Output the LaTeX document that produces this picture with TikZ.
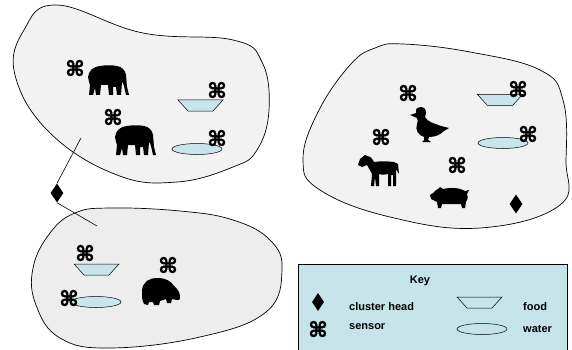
\documentclass[tikz,border=0pt]{standalone}
\usepackage{fontspec}
\setmainfont{Liberation Sans}
\newfontfamily\symbfont[FakeBold=2.5]{DejaVu Sans}
\usetikzlibrary{shapes.geometric}

\definecolor{pond}{HTML}{C8E5EA}
\definecolor{keyback}{HTML}{C5E3E8}
\definecolor{land}{HTML}{F2F2F2}
\definecolor{landb}{HTML}{EDEDED}

\tikzset{
  region/.style={draw,line width=0.7pt},
  sensor/.style={font=\symbfont\bfseries\fontsize{21}{21}\selectfont,inner sep=0pt},
  head/.style={diamond,fill=black,inner sep=0pt,minimum width=13pt,minimum height=19pt},
  water/.style={ellipse,draw,fill=pond,line width=0.5pt,inner sep=0pt,
    minimum width=50pt,minimum height=11pt},
  keytext/.style={font=\bfseries\fontsize{11}{12}\selectfont,anchor=west,inner sep=0pt},
  % food tray, origin at centre
  food/.pic={
    \draw[line width=0.5pt,pic actions] (-22.5,-5.5) -- (22.5,-5.5) -- (12.5,5.5) -- (-12.5,5.5) -- cycle;
  },
  % animal silhouettes, origin at top left
  elephant/.pic={
    \fill (0,12) .. controls (1,6) and (4,2) .. (12,1) .. controls (18,0) and (24,0) .. (29,1)
      .. controls (34,2) and (37,5) .. (38,10) -- (39,22) -- (41,30) -- (38,30) -- (36,21)
      .. controls (35,18) .. (34,17) -- (33,30) -- (29,30) -- (28,22) -- (25,22) -- (25,30)
      -- (21,30) -- (20,20) -- (13,20) -- (12,30) -- (8,30) -- (7,23) -- (5,30) -- (1,30)
      -- (2,20) .. controls (1,17) .. cycle;
  },
  duck/.pic={
    \fill (2,8) -- (8,6) .. controls (8,1) .. (13,0) .. controls (18,0) and (19,5) .. (17,10)
      .. controls (19,15) and (28,17) .. (33,19) -- (41,21) -- (36,24)
      .. controls (32,28) and (27,30) .. (21,30) -- (20,33) -- (23,35) -- (14,35) -- (16,33)
      -- (16,30) .. controls (10,28) and (7,23) .. (9,17) .. controls (10,14) .. (9,11) -- cycle;
  },
  horse/.pic={
    \fill (0,10) -- (2,4) -- (7,0) -- (9,1) .. controls (13,2) .. (16,7) .. controls (25,6) .. (36,7)
      -- (40,9) -- (41,19) -- (38,14) -- (38,31) -- (35,31) -- (35,20) -- (33,20) -- (33,31)
      -- (30,31) -- (30,19) .. controls (25,20) .. (21,19) -- (21,31) -- (18,31) -- (17,22)
      -- (16,31) -- (13,31) -- (14,19) .. controls (12,14) .. (9,10) -- (4,12) -- cycle;
  },
  pig/.pic={
    \fill (0,8) -- (3,6) .. controls (6,3) .. (8,2) -- (10,0) -- (13,2)
      .. controls (22,0) and (30,1) .. (35,4) -- (39,3) -- (37,7) .. controls (38,11) .. (36,15)
      -- (35,21) -- (32,21) -- (31,17) -- (12,17) -- (11,21) -- (8,21) -- (7,15)
      .. controls (4,13) .. (1,12) -- cycle;
  },
  hippo/.pic={
    \fill (0,12) .. controls (1,4) and (7,0) .. (15,0) .. controls (24,0) and (29,3) .. (32,8)
      .. controls (36,11) and (38,15) .. (38,19) .. controls (38,22) .. (35,22) -- (30,21)
      -- (29,25) -- (25,25) -- (24,21) -- (18,23) -- (17,27) -- (12,27) -- (11,24) -- (7,24)
      -- (6,27) -- (2,26) .. controls (0,21) .. cycle;
  },
}

\begin{document}
\begin{tikzpicture}[x=1pt,y=-1pt]
    \useasboundingbox (0,0) rectangle (572,350);
    \clip (0,0) rectangle (572,350);

    % the three regions
    \draw[region,fill=land] plot[smooth cycle,tension=0.7] coordinates {
      (57,5) (143,33) (233,40) (262,62) (269,110) (257,150) (233,167) (177,182)
      (117,175) (50,133) (15,75) (24,30)};
    \draw[region,fill=land] plot[smooth cycle,tension=0.7] coordinates {
      (403,44) (470,52) (540,70) (563,100) (566,160) (560,205) (480,228) (390,217)
      (320,190) (303,160) (318,112) (350,65) (375,48)};
    \draw[region,fill=landb] plot[smooth cycle,tension=0.7] coordinates {
      (110,208) (180,211) (233,220) (270,240) (282,270) (266,312) (200,337) (110,348)
      (60,338) (36,305) (33,268) (50,233) (75,213)};

    % top left region
    \pic[fill=pond] (f1) at (200.5,105.5) {food};
    \node[water] (w1) at (197,149) {};
    \pic at (88,65) {elephant};
    \pic at (115,125) {elephant};
    \node[sensor] (s1) at (75,68) {⌘};
    \node[sensor] (s2) at (113,117) {⌘};
    \node[sensor] (s3) at (217,90) {⌘};
    \node[sensor] (s4) at (217,138) {⌘};

    % right region
    \pic[fill=pond] (f2) at (500,100) {food};
    \node[water] (w2) at (503,143) {};
    \pic at (408,107) {duck};
    \pic at (358,155) {horse};
    \pic at (430,187) {pig};
    \node[sensor] (s5) at (408,93) {⌘};
    \node[sensor] (s6) at (518,89) {⌘};
    \node[sensor] (s7) at (381,137) {⌘};
    \node[sensor] (s8) at (528,134) {⌘};
    \node[sensor] (s9) at (457,165) {⌘};
    \node[head] (h2) at (516,204) {};

    % bottom left region
    \pic[fill=pond] (f3) at (96.5,269.5) {food};
    \node[water] (w3) at (96,302) {};
    \pic at (142,278) {hippo};
    \node[sensor] (s10) at (85,253) {⌘};
    \node[sensor] (s11) at (69,298) {⌘};
    \node[sensor] (s12) at (168,265) {⌘};

    % cluster head between two regions
    \node[head] (h1) at (57,193) {};
    \coordinate (c1) at (81,138);
    \coordinate (c3) at (97,226);
    \draw[line width=0.6pt] (c1) -- (h1.north);
    \draw[line width=0.6pt] (h1.south) -- (c3);

    % key
    \draw[line width=0.7pt,fill=keyback] (298,264) rectangle (567,360);
    \node[font=\bfseries\fontsize{11}{12}\selectfont] (key) at (420,281) {Key};
    \node[head,minimum width=12pt,minimum height=18pt] (kh) at (318,302) {};
    \node[sensor] (ks) at (318,329) {⌘};
    \node[keytext] (kht) at (349,307) {cluster head};
    \node[keytext] (kst) at (349,327) {sensor};
    \pic (kf) at (479.5,302.5) {food};
    \node[water,fill=keyback] (kw) at (482,329) {};
    \node[keytext] (kft) at (523,307) {food};
    \node[keytext] (kwt) at (523,329) {water};
\end{tikzpicture}
\end{document}
